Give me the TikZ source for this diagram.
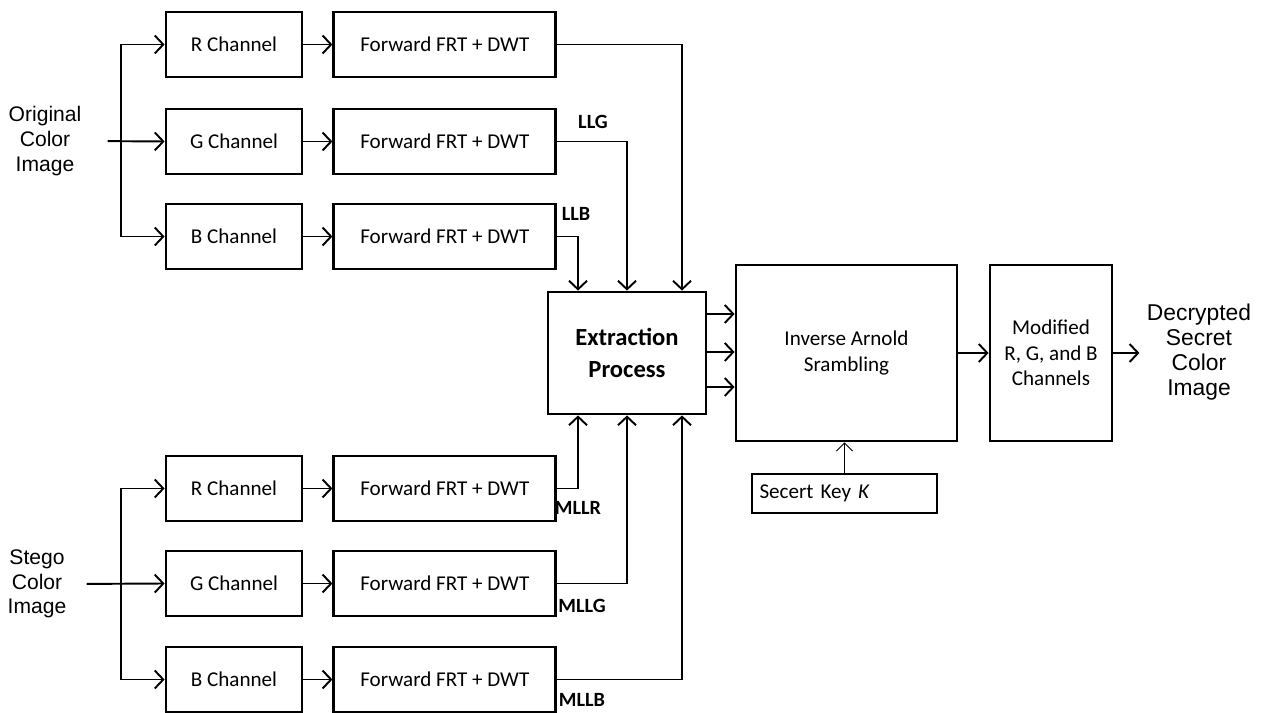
\documentclass[tikz,border=0pt]{standalone}
\usepackage{fontspec}
\setmainfont{Carlito}
\newfontfamily\arialfont{Liberation Sans}
\usetikzlibrary{arrows.meta,calc,positioning}
\tikzset{
  box/.style={rectangle,draw=black,line width=1.6pt,align=center,inner sep=2pt,
    font=\fontsize{12}{14.5}\selectfont},
  chanbox/.style={box,minimum width=2.72cm,minimum height=1.3cm},
  fwdbox/.style={box,minimum width=4.44cm,minimum height=1.3cm},
  bigbox/.style={box,minimum height=3.52cm},
  arrow/.style={-{Straight Barb[length=1.7mm,width=3.6mm]},line width=1.1pt},
  thinarrow/.style={-{Straight Barb[length=1.6mm,width=3.2mm]},line width=0.5pt},
  line/.style={line width=1.1pt},
  outer/.style={align=center,font=\arialfont\fontsize{12}{14}\selectfont},
  tag/.style={font=\bfseries\fontsize{11.5}{14}\selectfont}
}
\begin{document}
\begin{tikzpicture}[x=0.2mm,y=-0.2mm]
\useasboundingbox (0,0) rectangle (1264,713);
% original image branch
\node[outer] (orig) at (45,141) {Original\\Color\\Image};
\node[chanbox] (rA) at (234,44.5) {R Channel};
\node[chanbox] (gA) at (234,141.5) {G Channel};
\node[chanbox] (bA) at (234,236.5) {B Channel};
\node[fwdbox,right=0.58cm of rA] (frA) {Forward FRT + DWT};
\node[fwdbox,right=0.58cm of gA] (fgA) {Forward FRT + DWT};
\node[fwdbox,right=0.58cm of bA] (fbA) {Forward FRT + DWT};
% stego image branch
\node[outer] (stego) at (37,584) {Stego\\Color\\Image};
\node[chanbox] (rB) at (234,488.5) {R Channel};
\node[chanbox] (gB) at (234,583.5) {G Channel};
\node[chanbox] (bB) at (234,679.5) {B Channel};
\node[fwdbox,right=0.58cm of rB] (frB) {Forward FRT + DWT};
\node[fwdbox,right=0.58cm of gB] (fgB) {Forward FRT + DWT};
\node[fwdbox,right=0.58cm of bB] (fbB) {Forward FRT + DWT};
% processing chain
\node[box,minimum width=3.16cm,minimum height=2.44cm,
  font=\bfseries\fontsize{14}{18}\selectfont] (ext) at (627,353) {Extraction\\Process};
\node[bigbox,minimum width=4.42cm] (inv) at (846.5,353) {Inverse Arnold\\Srambling};
\node[bigbox,minimum width=2.44cm] (mod) at (1051,353) {Modified\\R, G, and B\\Channels};
\node[outer,font=\arialfont\fontsize{13}{14.3}\selectfont] (dec) at (1199,352) {Decrypted\\Secret\\Color\\Image};
\node[box,minimum width=3.7cm,minimum height=0.78cm,text width=3.4cm,align=left] (key) at (844.5,493.5) {Secert Key \textit{K}};
% labels
\node[tag] (llg) at (593,122) {LLG};
\node[tag] (llb) at (576,214) {LLB};
\node[tag] (mllr) at (578,508) {MLLR};
\node[tag] (mllg) at (582,606) {MLLG};
\node[tag] (mllb) at (582,700) {MLLB};
% splitting buses
\coordinate (busA) at (121,141);
\coordinate (busB) at (121,584);
\draw[arrow,shorten <=0.4cm] (orig.east) -- (gA.west);
\draw[arrow] (busA) |- (rA.west);
\draw[arrow] (busA) |- (bA.west);
\draw[arrow,shorten <=0.28cm] (stego.east) -- (gB.west);
\draw[arrow] (busB) |- (rB.west);
\draw[arrow] (busB) |- (bB.west);
\foreach \c in {r,g,b}{
  \draw[arrow] (\c A) -- (f\c A);
  \draw[arrow] (\c B) -- (f\c B);
}
% into extraction
\draw[arrow] (frA.east) -| ([xshift=1.1cm]ext.north);
\draw[arrow] (fgA.east) -| (ext.north);
\draw[arrow] (fbA.east) -| ([xshift=-0.98cm]ext.north);
\draw[arrow] (frB.east) -| ([xshift=-0.98cm]ext.south);
\draw[arrow] (fgB.east) -| (ext.south);
\draw[arrow] (fbB.east) -| ([xshift=1.1cm]ext.south);
% extraction to output
\draw[arrow] ([yshift=0.78cm]ext.east) -- ([yshift=0.78cm]inv.west);
\draw[arrow] ([yshift=0.02cm]ext.east) -- ([yshift=0.02cm]inv.west);
\draw[arrow] ([yshift=-0.68cm]ext.east) -- ([yshift=-0.68cm]inv.west);
\draw[arrow] (inv) -- (mod);
\draw[arrow] (mod.east) -- ([xshift=0.52cm]mod.east);
\draw[thinarrow] (key) -- (key |- inv.south);
\end{tikzpicture}
\end{document}
